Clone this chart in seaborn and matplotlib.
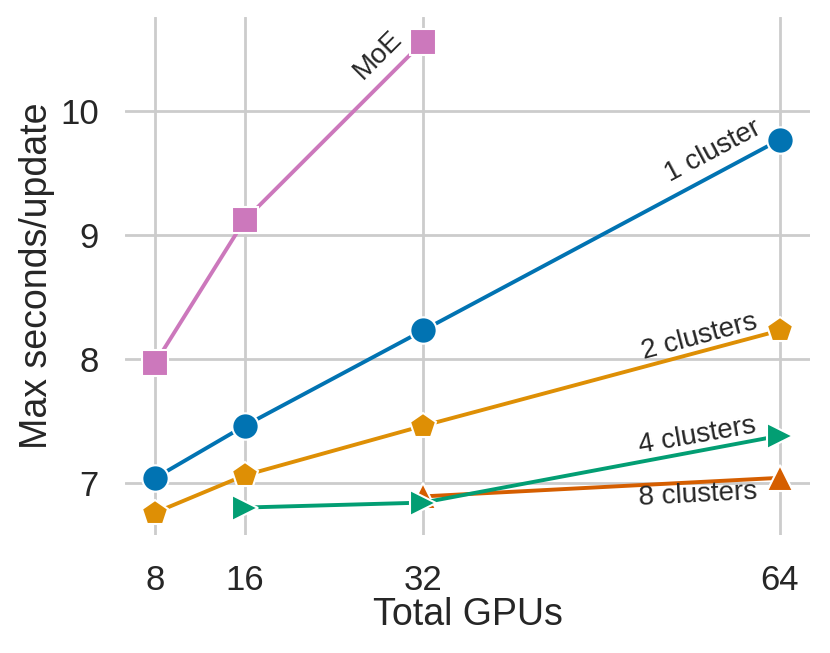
import pandas as pd
import matplotlib
matplotlib.use("Agg")
import matplotlib.pyplot as plt
import seaborn as sns

# 데이터
series_names = ["MoE", "1 cluster", "2 clusters", "4 clusters", "8 clusters"]
moe_gpus = [8, 16, 32]
moe_secs = [7.97, 9.12, 10.56]
c1_gpus = [8, 16, 32, 64]
c1_secs = [7.04, 7.46, 8.23, 9.77]
c2_gpus = [8, 16, 32, 64]
c2_secs = [6.76, 7.06, 7.46, 8.23]
c4_gpus = [16, 32, 64]
c4_secs = [6.80, 6.84, 7.38]
c8_gpus = [32, 64]
c8_secs = [6.89, 7.04]
x_ticks = [8, 16, 32, 64]
y_ticks = [7, 8, 9, 10]

rows = []
for name, gs, ss in zip(series_names,
                        [moe_gpus, c1_gpus, c2_gpus, c4_gpus, c8_gpus],
                        [moe_secs, c1_secs, c2_secs, c4_secs, c8_secs]):
    for g, s in zip(gs, ss):
        rows.append({"gpus": g, "secs": s, "model": name})
df = pd.DataFrame(rows)

sns.set_theme(style="whitegrid")
plt.rcParams['font.family'] = ['Liberation Sans', 'DejaVu Sans']

cb = sns.color_palette("colorblind")
palette = {"MoE": cb[4], "1 cluster": cb[0], "2 clusters": cb[1],
           "4 clusters": cb[2], "8 clusters": cb[3]}
markers = {"MoE": "s", "1 cluster": "o", "2 clusters": "p",
           "4 clusters": ">", "8 clusters": "^"}

fig = plt.figure(figsize=(8.3, 6.53), dpi=100)
ax = fig.add_axes([0.151, 0.181, 0.825, 0.793])

sns.lineplot(data=df, x="gpus", y="secs", hue="model", style="model",
             palette=palette, markers=markers, dashes=False, markersize=19,
             markeredgecolor="white", markeredgewidth=1.5, linewidth=2.8,
             legend=False, ax=ax, hue_order=series_names[::-1],
             style_order=series_names[::-1])

ax.set_xlim(5.3, 66.7)
ax.set_ylim(6.58, 10.76)
ax.set_xticks(x_ticks)
ax.set_yticks(y_ticks)
ax.tick_params(labelsize=25, labelcolor="#262626")
ax.tick_params(axis="x", pad=15)
ax.tick_params(axis="y", pad=13)
ax.set_xlabel("Total GPUs", fontsize=27, labelpad=0, color="#262626")
ax.set_ylabel("Max seconds/update", fontsize=27, labelpad=4, color="#262626")
sns.despine(ax=ax, left=True, bottom=True)
ax.grid(True, color="#cccccc", linewidth=2)

# 선 라벨
ax.text(27.98, 10.45, "MoE", fontsize=20, rotation=45, ha="center", va="center", color="#262626")
ax.text(58.0, 9.68, "1 cluster", fontsize=20, rotation=28, ha="center", va="center", color="#262626")
ax.text(56.8, 8.18, "2 clusters", fontsize=20, rotation=15, ha="center", va="center", color="#262626")
ax.text(56.6, 7.38, "4 clusters", fontsize=20, rotation=10, ha="center", va="center", color="#262626")
ax.text(56.6, 6.9, "8 clusters", fontsize=20, rotation=3, ha="center", va="center", color="#262626")

fig.savefig("out.png", dpi=100)
